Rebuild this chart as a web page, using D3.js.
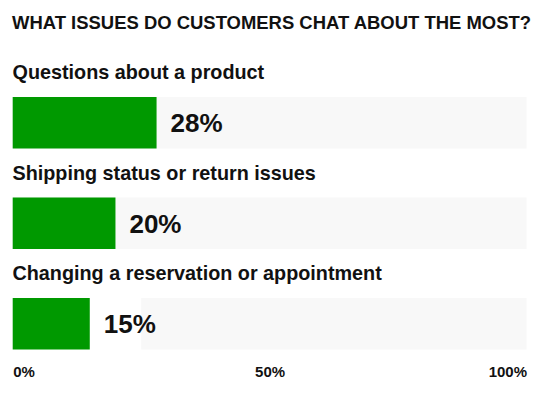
<!DOCTYPE html>
<html>
<head>
<meta charset="utf-8">
<script src="https://cdn.jsdelivr.net/npm/d3@7"></script>
<style>
  html, body { margin: 0; padding: 0; background: #fff; }
  svg { display: block; }
  text { font-family: "Liberation Sans", Arial, sans-serif; fill: #111; }
</style>
</head>
<body>
<svg id="chart" width="551" height="397"></svg>
<script>
const title = "WHAT ISSUES DO CUSTOMERS CHAT ABOUT THE MOST?";
const categories = ["Questions about a product", "Shipping status or return issues", "Changing a reservation or appointment"];
const values = [28, 20, 15];
const trackStart = [0, 0, 25];
const tickValues = [0, 50, 100];
const tickLabels = ["0%", "50%", "100%"];

const W = 551, H = 397;
const svg = d3.select("#chart");

const x = d3.scaleLinear().domain([0, 100]).range([12.7, 526.5]);
const y = d3.scaleBand().domain(categories).range([97, 97 + 3 * 100.5]).paddingInner(0).paddingOuter(0);
const barH = 51.5;

svg.append("text")
  .attr("x", 12).attr("y", 29)
  .attr("font-size", 18.5).attr("font-weight", "bold")
  .attr("textLength", 519).attr("lengthAdjust", "spacingAndGlyphs")
  .text(title);

const rows = svg.selectAll("g.row").data(categories).enter().append("g").attr("class", "row");

rows.append("rect")
  .attr("x", (d, i) => x(trackStart[i]))
  .attr("y", d => y(d))
  .attr("width", (d, i) => x(100) - x(trackStart[i]))
  .attr("height", barH)
  .attr("fill", "#f8f8f8");

rows.append("rect")
  .attr("x", x(0))
  .attr("y", d => y(d))
  .attr("width", (d, i) => x(values[i]) - x(0))
  .attr("height", barH)
  .attr("fill", "#009900");

rows.append("text")
  .attr("x", 12.5)
  .attr("y", d => y(d) - 18)
  .attr("font-size", 19.8)
  .attr("font-weight", "bold")
  .text(d => d);

rows.append("text")
  .attr("x", (d, i) => x(values[i]) + 14)
  .attr("y", d => y(d) + barH / 2 + 9.5)
  .attr("font-size", 26)
  .attr("font-weight", "bold")
  .text((d, i) => values[i] + "%");

const axis = d3.axisBottom(x).tickValues(tickValues).tickFormat((d, i) => tickLabels[i]).tickSize(0);
const gAxis = svg.append("g").attr("transform", "translate(0,365)").call(axis);
gAxis.select(".domain").remove();
gAxis.selectAll("text")
  .attr("font-size", 15).attr("font-weight", 600)
  .attr("font-family", "Inter, sans-serif")
  .attr("fill", "#111")
  .attr("dy", 0).attr("y", 12)
  .attr("text-anchor", (d, i) => i === 0 ? "start" : (i === tickValues.length - 1 ? "end" : "middle"));
</script>
</body>
</html>
